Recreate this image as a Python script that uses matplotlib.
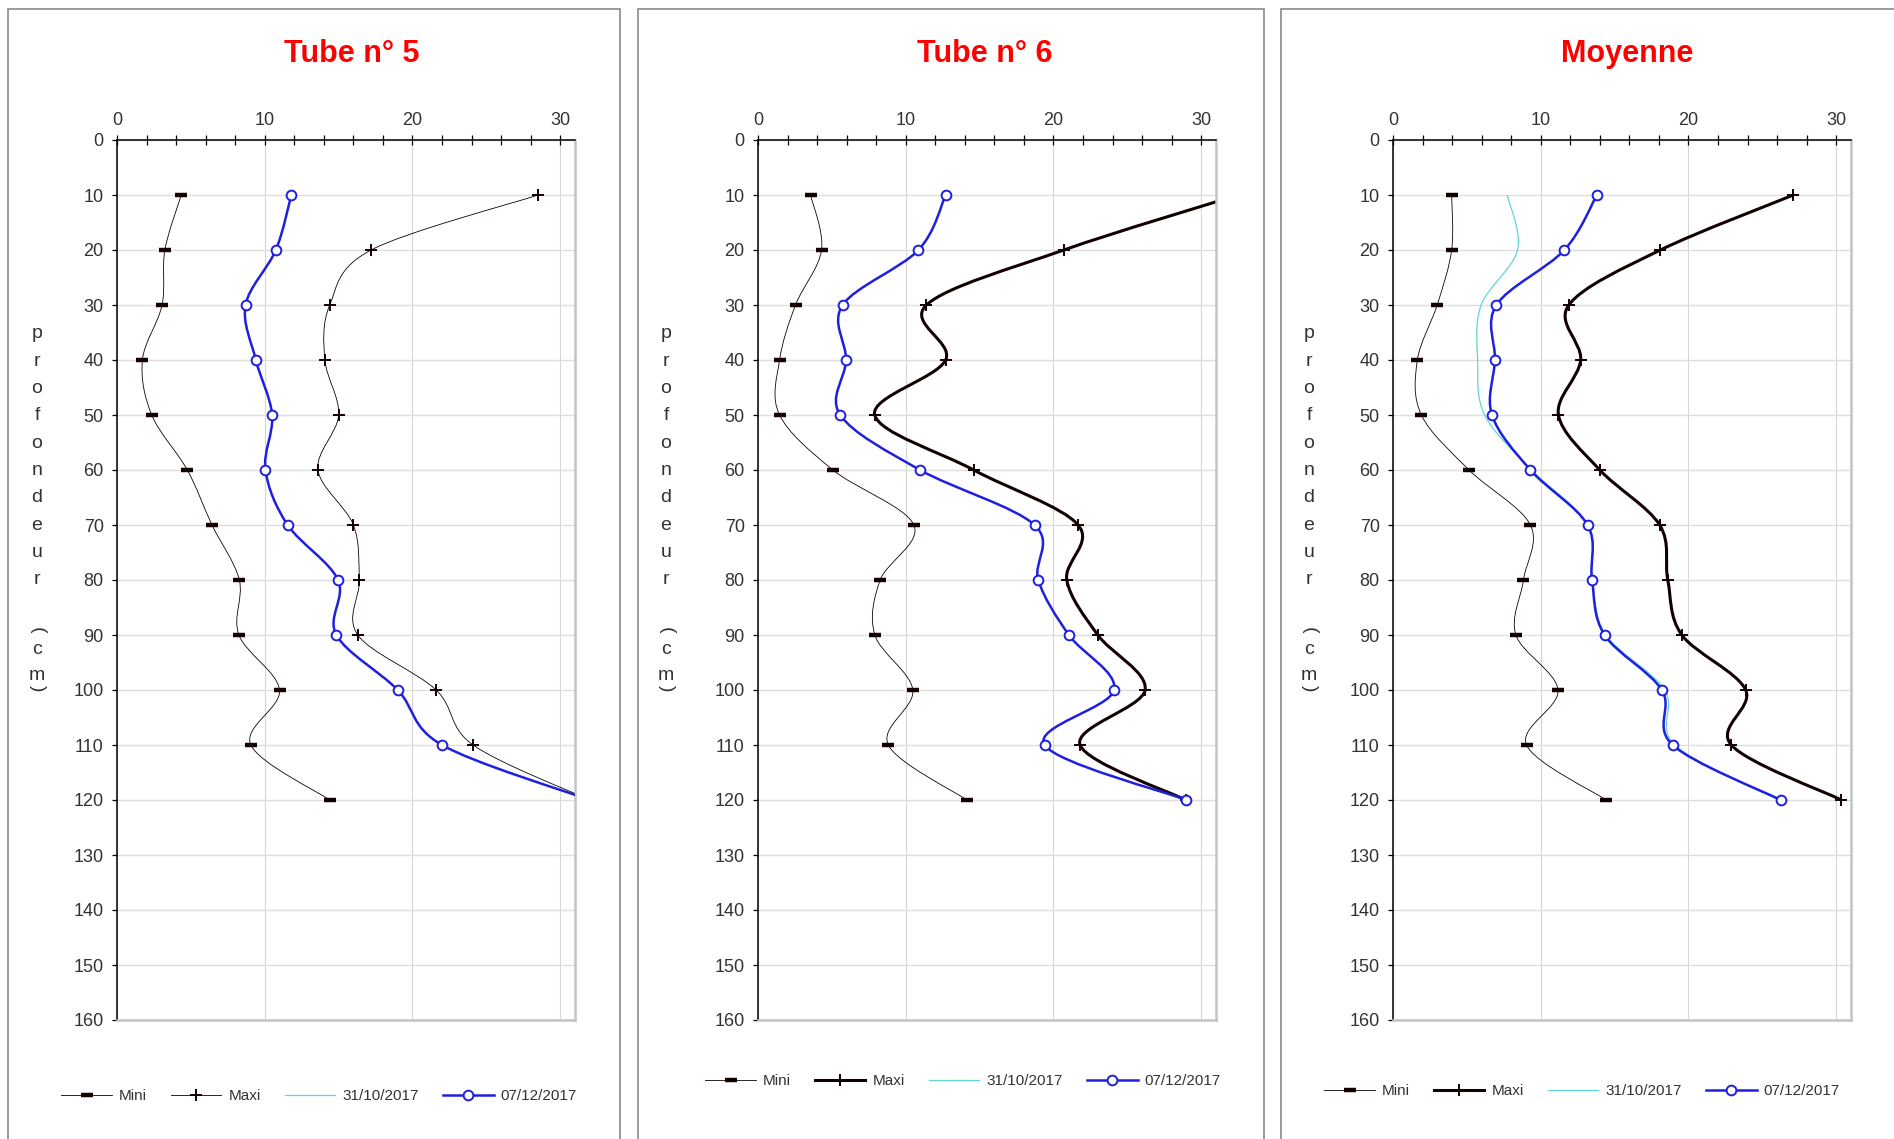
import numpy as np
import matplotlib
matplotlib.use("Agg")
import matplotlib.pyplot as plt
from matplotlib.path import Path
from matplotlib.patches import PathPatch, Rectangle
from matplotlib.lines import Line2D

plt.rcParams['font.family'] = ['Liberation Sans', 'DejaVu Sans']

# ---------------- data ----------------
depth = [10, 20, 30, 40, 50, 60, 70, 80, 90, 100, 110, 120]

tube5_mini = [4.35, 3.24, 3.05, 1.72, 2.35, 4.76, 6.43, 8.28, 8.25, 11.0, 9.06, 14.4]
tube5_maxi = [28.5, 17.2, 14.4, 14.07, 15.0, 13.6, 16.0, 16.4, 16.3, 21.6, 24.1, 32.0]
tube5_d0712 = [11.8, 10.75, 8.7, 9.4, 10.5, 10.05, 11.55, 14.96, 14.85, 19.0, 22.0, 32.0]

tube6_mini = [3.56, 4.3, 2.54, 1.46, 1.46, 5.07, 10.55, 8.27, 7.91, 10.48, 8.82, 14.14]
tube6_maxi = [32.5, 20.7, 11.4, 12.7, 7.9, 14.6, 21.67, 20.9, 23.0, 26.2, 21.8, 28.95]
tube6_d0712 = [12.7, 10.86, 5.73, 5.96, 5.57, 10.97, 18.72, 18.97, 21.04, 24.1, 19.4, 29.0]

moy_mini = [3.97, 3.97, 2.99, 1.65, 1.92, 5.15, 9.3, 8.83, 8.32, 11.17, 9.04, 14.43]
moy_maxi = [27.1, 18.1, 11.9, 12.7, 11.2, 14.0, 18.05, 18.6, 19.55, 23.87, 22.9, 30.35]
moy_d3110 = [7.73, 8.43, 5.97, 5.73, 6.2, 9.39, 13.2, 13.5, 14.4, 18.4, 19.07, 26.1]
moy_d0712 = [13.8, 11.6, 7.0, 6.9, 6.7, 9.3, 13.17, 13.47, 14.32, 18.2, 18.93, 26.24]

titles = ["Tube n° 5", "Tube n° 6", "Moyenne"]
legend_labels = ["Mini", "Maxi", "31/10/2017", "07/12/2017"]
xticks = [0, 10, 20, 30]
yticks = list(range(0, 161, 10))
ylabel_chars = list("profondeur") + ["(", "c", "m", ")"]

# ---------------- layout / styles ----------------
W, H = 1894, 1139
fig = plt.figure(figsize=(W / 100, H / 100), dpi=100)


def fx(px):
    return px / W


def fy(py):
    return 1 - py / H


BLACK = '#120000'
BLUE = '#1f1fe0'
CYAN = '#5fd6d6'
TXT = '#333333'


def smooth_path(x, y):
    P = np.column_stack([x, y]).astype(float)
    n = len(P)
    verts = [P[0]]
    codes = [Path.MOVETO]
    for i in range(n - 1):
        p0 = P[i - 1] if i > 0 else P[i]
        p1 = P[i]
        p2 = P[i + 1]
        p3 = P[i + 2] if i + 2 < n else P[i + 1]
        c1 = p1 + (p2 - p0) / 6.0
        c2 = p2 - (p3 - p1) / 6.0
        verts += [c1, c2, p2]
        codes += [Path.CURVE4] * 3
    return Path(verts, codes)


panels = [
    dict(left=117, box=(8, 620), title_x=352, ylab_x=37, leg_x=319, leg_y=1096,
         maxi_lw=0.6, mini=tube5_mini, maxi=tube5_maxi, d3110=None, d0712=tube5_d0712),
    dict(left=758, box=(638, 1264), title_x=985, ylab_x=666, leg_x=963, leg_y=1081,
         maxi_lw=2.2, mini=tube6_mini, maxi=tube6_maxi, d3110=None, d0712=tube6_d0712),
    dict(left=1393, box=(1281, 1905), title_x=1627, ylab_x=1309, leg_x=1582, leg_y=1091,
         maxi_lw=2.2, mini=moy_mini, maxi=moy_maxi, d3110=moy_d3110, d0712=moy_d0712),
]

ylab_pos = [334, 361.3, 388.6, 415.9, 443.2, 470.5, 497.8, 525.1, 552.4, 579.7, 630, 649, 676, 688]

AX_TOP, AX_BOT, AX_W = 140, 1020, 458

for k, p in enumerate(panels):
    # panel frame
    x0, x1 = p['box']
    fig.patches.append(Rectangle((fx(x0), fy(1150)), fx(x1 - x0), (1150 - 9) / H,
                                 transform=fig.transFigure, fill=False,
                                 edgecolor='#8a8a8a', lw=1.2))

    ax = fig.add_axes([fx(p['left']), fy(AX_BOT), fx(AX_W), (AX_BOT - AX_TOP) / H])
    ax.set_xlim(0, 31)
    ax.set_ylim(160, 0)
    ax.xaxis.tick_top()
    ax.set_xticks(xticks)
    ax.set_xticks(np.arange(0, 31, 2), minor=True)
    ax.set_yticks(yticks)
    ax.tick_params(axis='x', which='both', direction='inout', length=7, width=0.9,
                   color='black', labelcolor=TXT, labelsize=13, pad=4.5)
    ax.tick_params(axis='x', which='minor', labeltop=False)
    ax.tick_params(axis='y', which='major', direction='out', length=3.6, width=0.9,
                   color='black', labelcolor=TXT, labelsize=13, pad=6)
    ax.set_axisbelow(True)
    ax.xaxis.grid(True, which='major', color='#d6d6d6', lw=0.8)
    ax.yaxis.grid(True, which='major', color='#dedede', lw=1.0)
    for s in ('top', 'left'):
        ax.spines[s].set_color('black')
        ax.spines[s].set_linewidth(1.1)
    for s in ('right', 'bottom'):
        ax.spines[s].set_color('#c4c4c4')
        ax.spines[s].set_linewidth(1.8)

    # series
    ax.add_patch(PathPatch(smooth_path(p['mini'], depth), fill=False,
                           edgecolor=BLACK, lw=0.6, zorder=2))
    ax.plot(p['mini'], depth, ls='none', marker='_', ms=9, mew=3.2, color=BLACK, zorder=4)

    ax.add_patch(PathPatch(smooth_path(p['maxi'], depth), fill=False,
                           edgecolor=BLACK, lw=p['maxi_lw'], zorder=2))
    ax.plot(p['maxi'], depth, ls='none', marker='+', ms=9, mew=1.4, color=BLACK, zorder=4)

    if p['d3110'] is not None:
        ax.add_patch(PathPatch(smooth_path(p['d3110'], depth), fill=False,
                               edgecolor=CYAN, lw=0.9, zorder=2))

    ax.add_patch(PathPatch(smooth_path(p['d0712'], depth), fill=False,
                           edgecolor=BLUE, lw=1.8, zorder=3))
    ax.plot(p['d0712'], depth, ls='none', marker='o', ms=7, mew=1.4,
            markerfacecolor='white', markeredgecolor=BLUE, zorder=5)

    # title
    fig.text(fx(p['title_x']), fy(54), titles[k], ha='center', va='center',
             fontsize=22, fontweight='bold', color='#ff0000')

    # stacked y label
    for ch, yy in zip(ylabel_chars, ylab_pos):
        rot = -90 if ch in '()' else 0
        fig.text(fx(p['ylab_x']), fy(yy), ch, ha='center', va='center',
                 fontsize=14, color=TXT, rotation=rot)

    # legend
    handles = [
        Line2D([], [], color=BLACK, lw=0.6, marker='_', ms=9, mew=3.2),
        Line2D([], [], color=BLACK, lw=p['maxi_lw'], marker='+', ms=9, mew=1.4),
        Line2D([], [], color=CYAN, lw=0.9),
        Line2D([], [], color=BLUE, lw=1.8, marker='o', ms=7, mew=1.4,
               markerfacecolor='white', markeredgecolor=BLUE),
    ]
    fig.legend(handles, legend_labels, loc='center', ncol=4, frameon=False,
               bbox_to_anchor=(fx(p['leg_x']), fy(p['leg_y'])), fontsize=11,
               handlelength=3.3, handletextpad=0.45, columnspacing=1.6,
               labelcolor=TXT)

fig.savefig('out.png', dpi=100)
